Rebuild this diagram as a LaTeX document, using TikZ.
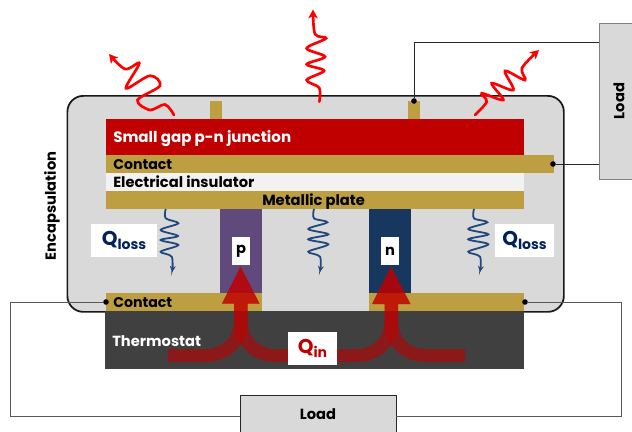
\documentclass[tikz,border=0pt]{standalone}
\usepackage{fontspec}
\setmainfont{Poppins}
\usetikzlibrary{arrows.meta}
\definecolor{gold}{HTML}{BD9F41}
\definecolor{encgray}{HTML}{D9D9D9}
\definecolor{darkred}{HTML}{C00000}
\definecolor{wave}{HTML}{1F497D}
\definecolor{qblue}{HTML}{002060}
\definecolor{pcol}{HTML}{604A7B}
\definecolor{ncol}{HTML}{17375E}
\tikzset{
  x=.75pt,y=-.75pt,
  rect/.style n args={3}{fill=#3,draw=none,anchor=north west,inner sep=0pt,minimum width=#1*.75pt,minimum height=#2*.75pt},
  lab/.style={anchor=base west,inner sep=0pt,font=\bfseries\fontsize{11pt}{12pt}\selectfont},
  whitebox/.style n args={2}{fill=white,inner sep=0pt,minimum width=#1*.75pt,minimum height=#2*.75pt},
  dot/.style={circle,fill=black,inner sep=0pt,minimum size=4.2pt},
  wire/.style={draw=#1,line width=.65pt},
  redwave/.style={draw=red,line width=2pt,line cap=round,-{Stealth[length=6.5pt,width=7pt,inset=1.5pt]}},
  bluewave/.style={draw=wave,line width=1.35pt,-{Stealth[length=4.5pt,width=4.5pt]}},
  heat/.style={fill=darkred,fill opacity=.6,draw=none},
}
\newcommand{\Qlab}[2]{\textcolor{#1}{{\fontsize{15pt}{16pt}\selectfont Q}{\fontsize{10.5pt}{12pt}\selectfont\raisebox{-3pt}{#2}}}}
\begin{document}
\begin{tikzpicture}
\useasboundingbox (0,0) rectangle (632,432);
\clip (0,0) rectangle (632,432);
% load boxes
\node[rect={45}{156}{encgray},draw=black!50,line width=1pt] (loadr) at (599,23) {};
\node[rect={156}{50}{encgray},draw=black!85,line width=1.1pt] (loadb) at (240,395) {};
\node[lab,anchor=center,rotate=90] (loadrt) at (619,101) {Load};
\node[lab,anchor=center] (loadbt) at (318,414.5) {Load};
% encapsulation
\node[rect={496.5}{216}{encgray},draw=black!90,line width=1.3pt,rounded corners=12pt] (enc) at (66.5,95) {};
\node[lab,anchor=center,rotate=90] (enctext) at (52,206) {Encapsulation};
% thermostat
\node[rect={419}{58}{black!75}] (thermo) at (105,311) {};
% layers
\node[rect={12}{18}{gold}] (tabl) at (210,101) {};
\node[rect={12}{18}{gold}] (tabr) at (408,101) {};
\node[rect={418}{36}{darkred}] (junction) at (106,119) {};
\node[rect={448}{18}{gold}] (topcontact) at (106,155) {};
\node[rect={418}{18}{black!5}] (insul) at (106,173) {};
\node[rect={418}{18}{gold}] (plate) at (106,191) {};
\node[rect={42}{84}{pcol}] (pleg) at (220,209) {};
\node[rect={42}{84}{ncol}] (nleg) at (369,209) {};
\node[rect={156}{18}{gold}] (contl) at (106,293) {};
\node[rect={155}{18}{gold}] (contr) at (369,293) {};
% layer labels
\node[lab,text=white,font=\bfseries\fontsize{11.3pt}{12pt}\selectfont] (tjunction) at (113,142) {Small gap p-n junction};
\node[lab,font=\bfseries\fontsize{10.6pt}{12pt}\selectfont] (tcontact) at (113,169) {Contact};
\node[lab] (tinsul) at (113,187) {Electrical insulator};
\node[lab] (tplate) at (262,205) {Metallic plate};
\node[lab,font=\bfseries\fontsize{10.6pt}{12pt}\selectfont] (tcontl) at (113,307) {Contact};
\node[lab,text=white] (tthermo) at (112,346) {Thermostat};
% wires
\node[dot] (d1) at (414,101) {};
\node[dot] (d2) at (553,164) {};
\node[dot] (d3) at (106,302) {};
\node[dot] (d4) at (525,302) {};
\coordinate (w1) at (599,42);
\coordinate (w2) at (599,164);
\coordinate (w3a) at (10,302);
\coordinate (w3b) at (240,416);
\coordinate (w4a) at (621,302);
\coordinate (w4b) at (396,416);
\draw[wire=black!85] (d1) |- (w1);
\draw[wire=black!85] (d2) -- (w2);
\draw[wire=black!65] (d3) -- (w3a) |- (w3b);
\draw[wire=black!65] (d4) -- (w4a) |- (w4b);
% heat arrows
\path[heat] (168,349) -- (205,349) .. controls (222,349) and (234,338) .. (234,320) -- (234,303.5) -- (222,303.5) -- (240.5,266.5) -- (259.5,303.5) -- (247.5,303.5) -- (247.5,320) .. controls (247.5,345) and (230,362) .. (205,362) -- (168,362) -- cycle;
\path[heat] (313,349) -- (276,349) .. controls (259,349) and (247.5,338) .. (247.5,320) -- (247.5,303.5) -- (259.5,303.5) -- (240.5,266.5) -- (222,303.5) -- (234,303.5) -- (234,320) .. controls (234,345) and (251,362) .. (276,362) -- (313,362) -- cycle;
\path[heat] (317,349) -- (356,349) .. controls (373,349) and (384.5,338) .. (384.5,320) -- (384.5,304) -- (372,304) -- (391,266.5) -- (410.5,304) -- (398,304) -- (398,320) .. controls (398,345) and (381,362) .. (356,362) -- (317,362) -- cycle;
\path[heat] (465,349) -- (426,349) .. controls (409,349) and (398,338) .. (398,320) -- (398,304) -- (410.5,304) -- (391,266.5) -- (372,304) -- (384.5,304) -- (384.5,320) .. controls (384.5,345) and (401,362) .. (426,362) -- (465,362) -- cycle;
% white label boxes
\node[whitebox={18}{28},font=\bfseries\fontsize{11pt}{12pt}\selectfont] (plab) at (241,251) {p};
\node[whitebox={18}{28},font=\bfseries\fontsize{11pt}{12pt}\selectfont] (nlab) at (390,251) {n};
\node[whitebox={66}{33}] (qll) at (124,240.5) {\bfseries\Qlab{qblue}{loss}};
\node[whitebox={59}{33}] (qlr) at (524.5,240.5) {\bfseries\Qlab{qblue}{loss}};
\node[whitebox={49}{33}] (qin) at (312.5,348.5) {\bfseries\Qlab{darkred}{in}};
% red waves
\draw[redwave] plot[smooth,tension=.55] coordinates {(174,115) (165,104.5) (150,110) (137.5,100) (160,85.7) (150,75.7) (126,88.3) (139.3,63.3) (125,69) (109,54)};
\draw[redwave] plot[smooth,tension=.55] coordinates {(319.3,101.7) (319.3,88) (306.7,80) (324,70.7) (306.7,64.3) (325,56.7) (306.7,48.3) (326,38.3) (315,34) (313,9.5)};
\draw[redwave] plot[smooth,tension=.55] coordinates {(475,115) (486.7,101.7) (481.7,93.3) (503.3,100) (491.7,83.3) (513.3,90) (505,71) (525,80) (522,68) (539,50)};
% blue waves
\draw[bluewave] plot[smooth,tension=.55] coordinates {(165.7,209) (165.7,218.3) (178.3,223.3) (160.7,230) (178,236) (160.7,240) (178.3,245) (160.7,251.7) (171.7,256.7) (172.2,272)};
\draw[bluewave] plot[smooth,tension=.55] coordinates {(314,209) (314,218.3) (327.3,222.3) (308.3,229) (328.3,234.3) (308.3,239.3) (328.3,244.3) (308.3,251.7) (320,256.7) (320,272)};
\draw[bluewave] plot[smooth,tension=.55] coordinates {(474,209) (474,218.3) (487.3,222.3) (468.3,229) (488.3,234.3) (468.3,239.3) (488.3,244.3) (468.3,251.7) (480,256.7) (480,272)};
\end{tikzpicture}
\end{document}
